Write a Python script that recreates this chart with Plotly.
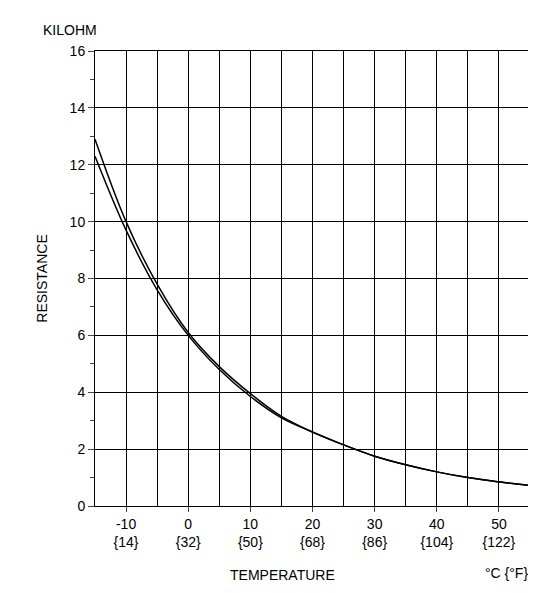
import plotly.graph_objects as go

temps = [-15, -10, -5, 0, 5, 10, 15, 20, 25, 30, 35, 40, 45, 50, 55]
res_upper = [12.9, 10.0, 7.8, 6.1, 4.9, 3.95, 3.15, 2.6, 2.15, 1.75, 1.45, 1.2, 1.0, 0.85, 0.72]
res_lower = [12.3, 9.7, 7.6, 6.0, 4.8, 3.85, 3.1, 2.6, 2.15, 1.75, 1.45, 1.2, 1.0, 0.85, 0.72]
tick_vals = [-10, 0, 10, 20, 30, 40, 50]
tick_text = ["-10<br>{14}", "0<br>{32}", "10<br>{50}", "20<br>{68}", "30<br>{86}", "40<br>{104}", "50<br>{122}"]

fig = go.Figure()
for r in (res_upper, res_lower):
    fig.add_trace(go.Scatter(x=temps, y=r, mode="lines", line=dict(color="black", width=1.5, shape="spline"), showlegend=False))

fig.update_layout(
    width=536, height=593, plot_bgcolor="white", paper_bgcolor="white",
    margin=dict(l=87, r=14, t=43, b=95),
    font=dict(family="Liberation Sans, Arial", size=14, color="black"),
)
fig.update_xaxes(range=[-15, 55], tickvals=tick_vals, ticktext=tick_text, showgrid=True,
                 gridcolor="black", gridwidth=1, showline=True, linecolor="black",
                 mirror=True, ticks="outside", ticklen=5, zeroline=False,
                 minor=dict(tickvals=list(range(-15, 56, 5)), showgrid=True, gridcolor="black", gridwidth=1))
fig.update_yaxes(range=[0, 16], dtick=2, showgrid=True, gridcolor="black", gridwidth=1,
                 showline=True, linecolor="black", mirror=True, ticks="outside", ticklen=6,
                 zeroline=False, minor=dict(dtick=1, ticks="outside", ticklen=4, showgrid=False),
                 title=dict(text="RESISTANCE", standoff=18, font=dict(size=14)))
fig.add_annotation(text="KILOHM", xref="paper", yref="paper", x=-0.125, y=1.025, xanchor="left", yanchor="bottom", showarrow=False)
fig.add_annotation(text="TEMPERATURE", xref="paper", yref="paper", x=0.43, y=-0.13, xanchor="center", yanchor="top", showarrow=False)
fig.add_annotation(text="°C {°F}", xref="paper", yref="paper", x=1.0, y=-0.125, xanchor="right", yanchor="top", showarrow=False)
fig.write_html("out.html")
